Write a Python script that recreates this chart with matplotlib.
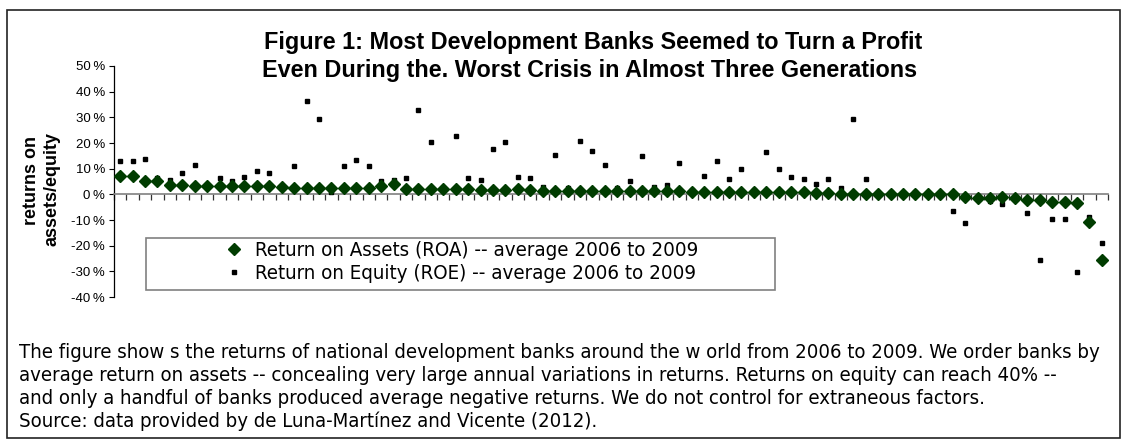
import matplotlib
matplotlib.use("Agg")
import matplotlib.pyplot as plt
from matplotlib.patches import Rectangle
from matplotlib.lines import Line2D
from matplotlib.ticker import FuncFormatter
from matplotlib import font_manager
from matplotlib.font_manager import FontProperties
import numpy as np

plt.rcParams['font.family'] = ['Liberation Sans', 'DejaVu Sans']

# --- data (percent) ---
roa = [7.1, 7.3, 5.1, 5.0, 3.8, 3.7, 3.2, 3.1, 3.1, 3.1, 3.1, 3.1, 3.1, 3.0, 2.6,
       2.6, 2.6, 2.6, 2.6, 2.6, 2.6, 3.4, 3.9, 1.9, 1.9, 1.9, 1.9, 1.9, 1.9, 1.8,
       1.8, 1.8, 1.9, 1.5, 1.4, 1.4, 1.4, 1.4, 1.4, 1.4, 1.4, 1.4, 1.4, 1.3, 1.3,
       1.4, 0.9, 0.9, 0.9, 0.9, 0.9, 0.9, 0.9, 0.9, 0.9, 0.8, 0.4, 0.4, 0.3, 0.3,
       0.3, 0.2, 0.2, 0.2, 0.2, 0.2, 0.1, 0.0, -1.2, -1.3, -1.3, -1.2, -1.3, -2.2, -2.2,
       -2.9, -2.9, -3.5, -10.7, -25.4]
roe = [12.8, 12.8, 13.6, 6.3, 5.4, 8.3, 11.5, 3.4, 6.3, 5.0, 6.9, 8.9, 8.3, 3.4, 10.9,
       36.2, 29.4, 0.8, 10.9, 13.5, 10.9, 5.0, 5.6, 6.3, 32.8, 20.2, 2.0, 22.8, 6.3, 5.6,
       17.6, 20.2, 6.9, 6.3, 3.0, 15.5, 2.4, 20.9, 16.9, 11.5, 2.4, 5.0, 14.8, 3.0, 3.7,
       12.2, 1.8, 7.1, 13.0, 5.8, 9.8, 1.8, 16.3, 9.8, 6.6, 5.8, 3.9, 5.8, 2.6, 29.3,
       5.8, 0.0, 0.8, 0.0, 0.8, 0.0, 0.0, -6.5, -11.0, -1.8, -2.5, -3.8, -1.1, -7.1, -25.7,
       -9.7, -9.7, -30.3, -9.0, -18.9]
yticks = [-40, -30, -20, -10, 0, 10, 20, 30, 40, 50]

title_lines = ["Figure 1: Most Development Banks Seemed to Turn a Profit",
               "Even During the. Worst Crisis in Almost Three Generations"]
ylabel_lines = ["returns on", "assets/equity"]
legend_labels = ["Return on Assets (ROA) -- average 2006 to 2009",
                 "Return on Equity (ROE) -- average 2006 to 2009"]
caption = ["The figure show s the returns of national development banks around the w orld from 2006 to 2009. We order banks by",
           "average return on assets -- concealing very large annual variations in returns. Returns on equity can reach 40% --",
           "and only a handful of banks produced average negative returns. We do not control for extraneous factors.",
           "Source: data provided by de Luna-Mart\u00ednez and Vicente (2012)."]

# pick a condensed sans font if one is installed
def find_condensed():
    prefs = ['liberation sans narrow', 'arial narrow', 'noto sans', 'dejavu sans',
             'roboto', 'open sans', 'lato', 'inter']
    best = None
    for f in font_manager.fontManager.ttflist:
        nm = f.name.lower()
        fn = f.fname.lower()
        cond = ('narrow' in nm or 'condensed' in nm or 'narrow' in fn or
                ('condensed' in fn and 'extracondensed' not in fn and 'semicondensed' not in fn)
                or f.stretch == 'condensed')
        if not cond:
            continue
        if f.style != 'normal' or f.weight not in (400, 'normal', 'regular'):
            continue
        if 'mono' in nm or 'serif' in nm and 'sans' not in nm:
            continue
        rank = len(prefs)
        for i, p in enumerate(prefs):
            if nm.startswith(p):
                rank = i
                break
        if best is None or rank < best[0]:
            best = (rank, f.fname)
    return best[1] if best else None

cond_path = find_condensed()

def cond_props(size):
    if cond_path:
        return FontProperties(fname=cond_path, size=size)
    return FontProperties(family=['Liberation Sans'], size=size)

W, H = 1126, 444
fig = plt.figure(figsize=(W / 100, H / 100), dpi=100)
fig.patch.set_facecolor('white')

def fx(px):
    return px / W

def fy(py):
    return 1 - py / H

# outer border
fig.add_artist(Rectangle((fx(7), fy(438)), fx(1120) - fx(7), fy(10) - fy(438),
                         transform=fig.transFigure, fill=False, edgecolor='#222222', linewidth=1.2))

ax = fig.add_axes([fx(114), fy(297), fx(1108) - fx(114), fy(66) - fy(297)])
n = len(roa)
x = np.arange(n)
green = '#003c00'
ax.plot(x, roe, linestyle='none', marker='s', ms=2.2, color='black', zorder=3)
ax.plot(x, roa, linestyle='none', marker='D', ms=6.5, color=green, mec=green, zorder=4)

ax.set_xlim(-0.5, n - 0.5)
ax.set_ylim(-40, 50)
ax.set_yticks(yticks)
ax.yaxis.set_major_formatter(FuncFormatter(lambda v, p: f"{int(v)}\u2009%"))
ax.tick_params(axis='y', direction='out', length=3.5, width=0.8, labelsize=9.5, pad=3, colors='black')
for s in ['top', 'right']:
    ax.spines[s].set_visible(False)
ax.spines['left'].set_color('black')
ax.spines['left'].set_linewidth(0.9)
ax.spines['bottom'].set_position(('data', 0))
ax.spines['bottom'].set_color('#808080')
ax.spines['bottom'].set_linewidth(1.2)
ax.set_xticks(np.arange(n + 1) - 0.5)
ax.set_xticklabels([])
ax.tick_params(axis='x', direction='out', length=4, width=0.9, color='#333333')

# title
fig.text(fx(593), fy(42), title_lines[0], ha='center', va='center', fontsize=16.8, fontweight='bold')
fig.text(fx(590), fy(71), title_lines[1], ha='center', va='center', fontsize=16.8, fontweight='bold')

# y label
fig.text(fx(31), fy(180), ylabel_lines[0], ha='center', va='center', rotation=90, fontsize=13, fontweight='bold')
fig.text(fx(52), fy(189), ylabel_lines[1], ha='center', va='center', rotation=90, fontsize=13, fontweight='bold')

# legend box
fig.add_artist(Rectangle((fx(146), fy(290)), fx(775) - fx(146), fy(238) - fy(290),
                         transform=fig.transFigure, fill=False, edgecolor='#808080', linewidth=1.2))

# measure fitting sizes
fig.canvas.draw()
r = fig.canvas.get_renderer()

def fit_size(text, target, base=12.0):
    t = fig.text(0, 0, text, fontproperties=cond_props(base))
    w = t.get_window_extent(r).width
    t.remove()
    return base * target / w

leg_size = fit_size(legend_labels[0], 444)
cap_size = fit_size(caption[0], 1084)

handles = [Line2D([], [], linestyle='none', marker='D', ms=6.5, color=green),
           Line2D([], [], linestyle='none', marker='s', ms=2.2, color='black')]
fig.legend(handles, legend_labels, loc='center', bbox_to_anchor=(fx(462), fy(262)),
           frameon=False, prop=cond_props(leg_size), handlelength=0.8, handletextpad=0.6,
           labelspacing=0.2, borderpad=0)

for i, line in enumerate(caption):
    fig.text(fx(19), fy(352 + 23 * i), line, ha='left', va='center', fontproperties=cond_props(cap_size))

fig.savefig('out.png', dpi=100)
